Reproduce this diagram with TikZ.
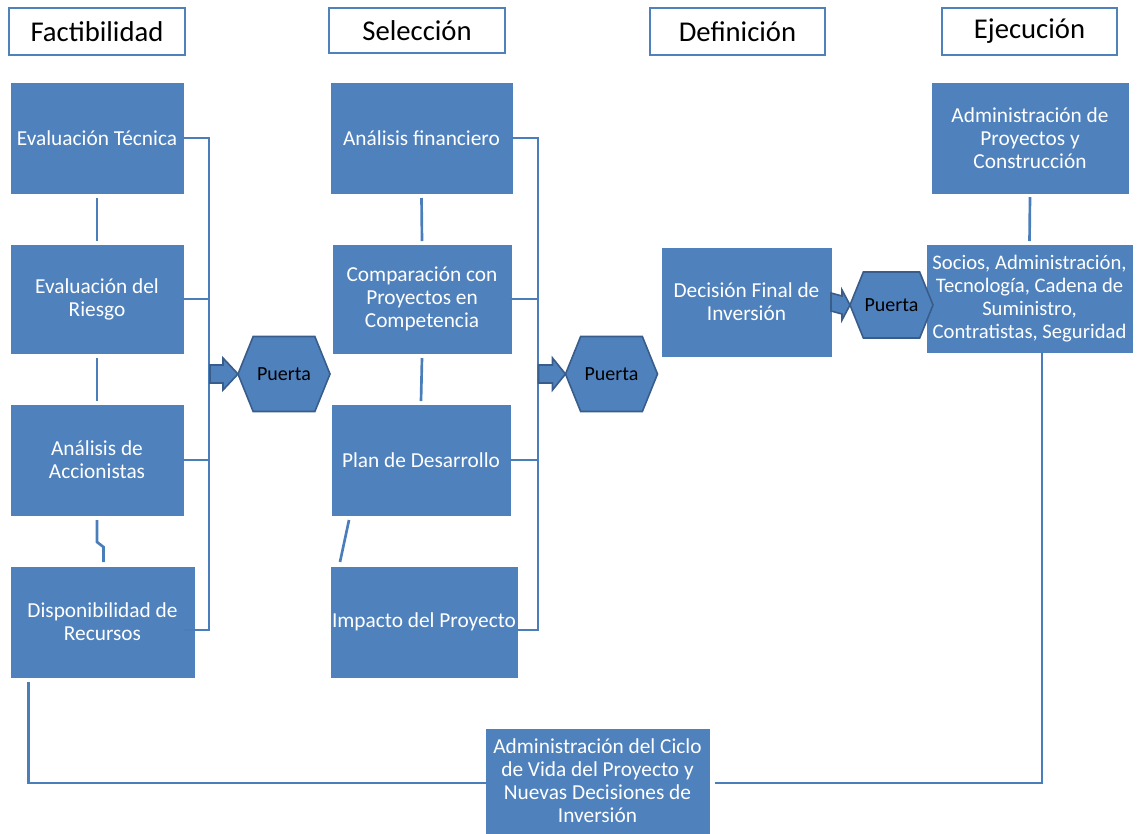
\documentclass[tikz,border=0pt]{standalone}
\usepackage{fontspec}
\setmainfont{Carlito}
\usetikzlibrary{shapes.symbols,calc}
\definecolor{ofblue}{HTML}{4F81BD}
\definecolor{lnblue}{HTML}{4A7EBB}
\definecolor{hexedge}{HTML}{385D8A}
\begin{document}
\begin{tikzpicture}[x=0.75pt,y=-0.75pt,
  hdr/.style={draw=ofblue, line width=1.1pt, fill=white, inner sep=0pt, outer sep=0pt, text=black, font=\fontsize{21.5}{24}\selectfont},
  bx/.style={fill=ofblue, draw=ofblue, line width=0.5pt, inner sep=0pt, outer sep=0pt, text=white, align=center, font=\fontsize{16}{17.25}\selectfont},
  ln/.style={draw=lnblue, line width=2pt},
  hexa/.style={signal, signal to=east and west, signal pointer angle=136, fill=ofblue, draw=hexedge, line width=1.2pt, inner sep=0pt, outer sep=0pt, text=black, font=\fontsize{15}{16}\selectfont},
  barrow/.style={fill=ofblue, draw=hexedge, line width=1.2pt, line join=miter}
]
\useasboundingbox (0,0) rectangle (1137,833);
% headers
\node[hdr, minimum width=132pt, minimum height=35.25pt] (hf) at (97,31.5) {Factibilidad};
\node[hdr, minimum width=132pt, minimum height=33.75pt] (hs) at (417,30.5) {Selección};
\node[hdr, minimum width=131.25pt, minimum height=35.25pt] (hd) at (737.5,31.5) {Definición};
\node[hdr, minimum width=131.25pt, minimum height=35.25pt] (he) at (1029.5,31.5) {Ejecución};
% column 1
\node[bx, minimum width=129pt, minimum height=82.5pt] (et) at (97,138) {Evaluación Técnica};
\node[bx, minimum width=129pt, minimum height=81pt] (er) at (97,299) {Evaluación del\\Riesgo};
\node[bx, minimum width=129pt, minimum height=82.5pt] (aa) at (97,460) {Análisis de\\Accionistas};
\node[bx, minimum width=137.25pt, minimum height=82.5pt] (dr) at (102.5,622) {Disponibilidad de\\Recursos};
% column 2
\node[bx, minimum width=135.75pt, minimum height=82.5pt] (af) at (421.5,138) {Análisis financiero};
\node[bx, minimum width=133.5pt, minimum height=81pt] (cp) at (422,299) {Comparación con\\Proyectos en\\Competencia};
\node[bx, minimum width=133.5pt, minimum height=82.5pt] (pd) at (421,460) {Plan de Desarrollo};
\node[bx, minimum width=139.5pt, minimum height=82.5pt] (ip) at (424,622) {Impacto del Proyecto};
% definition
\node[bx, minimum width=126.75pt, minimum height=81pt] (df) at (746.5,302) {Decisión Final de\\Inversión};
% execution
\node[bx, minimum width=147pt, minimum height=82.5pt] (ap) at (1030,138) {Administración de\\Proyectos y\\Construcción};
\node[bx, minimum width=153.75pt, minimum height=80.25pt, font=\fontsize{15.5}{17.25}\selectfont] (sc) at (1029.5,298.5) {Socios, Administración,\\Tecnología, Cadena de\\Suministro,\\Contratistas, Seguridad};
% bottom
\node[bx, minimum width=167.25pt, minimum height=78pt] (ad) at (597.5,781) {Administración del Ciclo\\de Vida del Proyecto y\\Nuevas Decisiones de\\Inversión};
% gates
\node[hexa, minimum width=69pt, minimum height=56.25pt] (h1) at (284,374) {Puerta};
\node[hexa, minimum width=69pt, minimum height=56.25pt] (h2) at (611.5,374) {Puerta};
\node[hexa, minimum width=62.25pt, minimum height=49.5pt] (h3) at (891.5,305) {Puerta};
% column 1 connectors
\coordinate (bus1t) at (209,138);
\coordinate (bus1b) at (209,630);
\draw[ln] (et.east) -- (et.east -| bus1t) -- (bus1b) -- ($(dr.east)+(-10,8)$);
\draw[ln] (er.east) -- (er.east -| bus1t);
\draw[ln] (aa.east) -- (aa.east -| bus1t);
\draw[ln] ($(et.south)+(0,5)$) -- ($(er.north)+(0,-4)$);
\draw[ln] ($(er.south)+(0,5)$) -- ($(aa.north)+(0,-4)$);
\draw[ln] ($(aa.south)+(0,5)$) -- ++(0,22) -- ($(dr.north)+(1,-20)$) -- ($(dr.north)+(1,-5)$);
% column 2 connectors
\coordinate (bus2t) at (538,138);
\coordinate (bus2b) at (538,630);
\draw[ln] (af.east) -- (af.east -| bus2t) -- (bus2b) -- ($(ip.east)+(0,8)$);
\draw[ln] (cp.east) -- (cp.east -| bus2t);
\draw[ln] (pd.east) -- (pd.east -| bus2t);
\draw[ln] ($(af.south)+(0,5)$) -- ($(cp.north)+(0,-4)$);
\draw[ln] ($(cp.south)+(0,5)$) -- ($(pd.north)+(0,-4)$);
\draw[ln] ($(pd.south)+(-72,5)$) -- ($(ip.north)+(-84,-5)$);
% execution connector
\draw[ln] ($(ap.south)+(0,4)$) -- ($(sc.north)+(0,-4)$);
% feedback loop
\draw[ln] ($(dr.south)+(-74,5)$) |- ($(ad.west)+(0,2)$);
\draw[ln] ($(ad.east)+(6,2)$) -| ($(sc.south)+(12.5,0)$);
% block arrows
\draw[barrow] ($(h1.west)+(-28,-9)$) -- ($(h1.west)+(-15,-9)$) -- ($(h1.west)+(-15,-16)$) -- (h1.west) -- ($(h1.west)+(-15,16)$) -- ($(h1.west)+(-15,9)$) -- ($(h1.west)+(-28,9)$) -- cycle;
\draw[barrow] ($(h2.west)+(-27,-9)$) -- ($(h2.west)+(-13,-9)$) -- ($(h2.west)+(-13,-16)$) -- (h2.west) -- ($(h2.west)+(-13,16)$) -- ($(h2.west)+(-13,9)$) -- ($(h2.west)+(-27,9)$) -- cycle;
\draw[barrow] ($(df.east)+(0,-9)$) -- ($(h3.west)+(-8,-9)$) -- ($(h3.west)+(-8,-15)$) -- (h3.west) -- ($(h3.west)+(-8,15)$) -- ($(h3.west)+(-8,9)$) -- ($(df.east)+(0,9)$) -- cycle;
\end{tikzpicture}
\end{document}
